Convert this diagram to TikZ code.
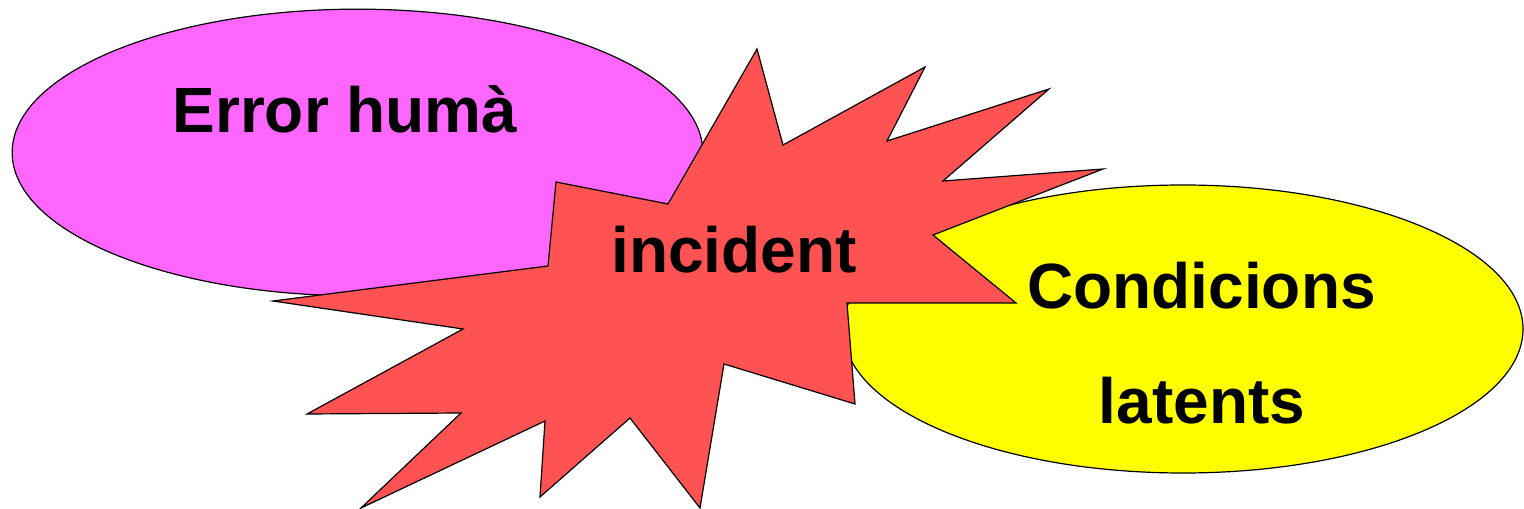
\documentclass[tikz,border=0pt]{standalone}
\usepackage{fontspec}
\setmainfont{Liberation Sans}
\usetikzlibrary{shapes.geometric}
\definecolor{errpink}{RGB}{255,102,255}
\definecolor{burstred}{RGB}{255,82,82}
\definecolor{condyellow}{RGB}{255,255,0}

\begin{document}
\begin{tikzpicture}[
    x=0.75pt, y=-0.75pt,
    every node/.style={font=\fontsize{48}{58}\selectfont\bfseries},
    blob/.style={draw, ellipse, inner sep=0pt, line width=0.9pt},
    burst/.style={draw, fill=burstred, line width=0.9pt, line join=miter},
    word/.style={anchor=base, inner sep=0pt}
]
\useasboundingbox (0,0) rectangle (1524,509);
% the two clouds
\node[blob, fill=errpink, minimum width=518pt, minimum height=215pt] (human) at (357.5,152.5) {};
\node[blob, fill=condyellow, minimum width=510pt, minimum height=216pt] (latent) at (1183,329) {};
% the burst on top
\draw[burst] (548,266) -- (556,182) -- (668,204) -- (757,49) -- (783,145)
    -- (925,67) -- (887,141) -- (1049,89) -- (943,181) -- (1103,169)
    -- (933,235) -- (1016,303) -- (847,303) -- (855,404) -- (724,364)
    -- (700,508) -- (630,418) -- (540,497) -- (545,421) -- (361,508)
    -- (461,413) -- (307,414) -- (463,329) -- (273,301) -- cycle;
% texts
\node[word] (errtext) at (345,132.7) {Error humà};
\node[word] (inctext) at (734,273) {incident};
\node[word] (condtext) at (1201.5,308.3) {Condicions};
\node[word] (lattext) at (1202,423.3) {latents};
\end{tikzpicture}
\end{document}
